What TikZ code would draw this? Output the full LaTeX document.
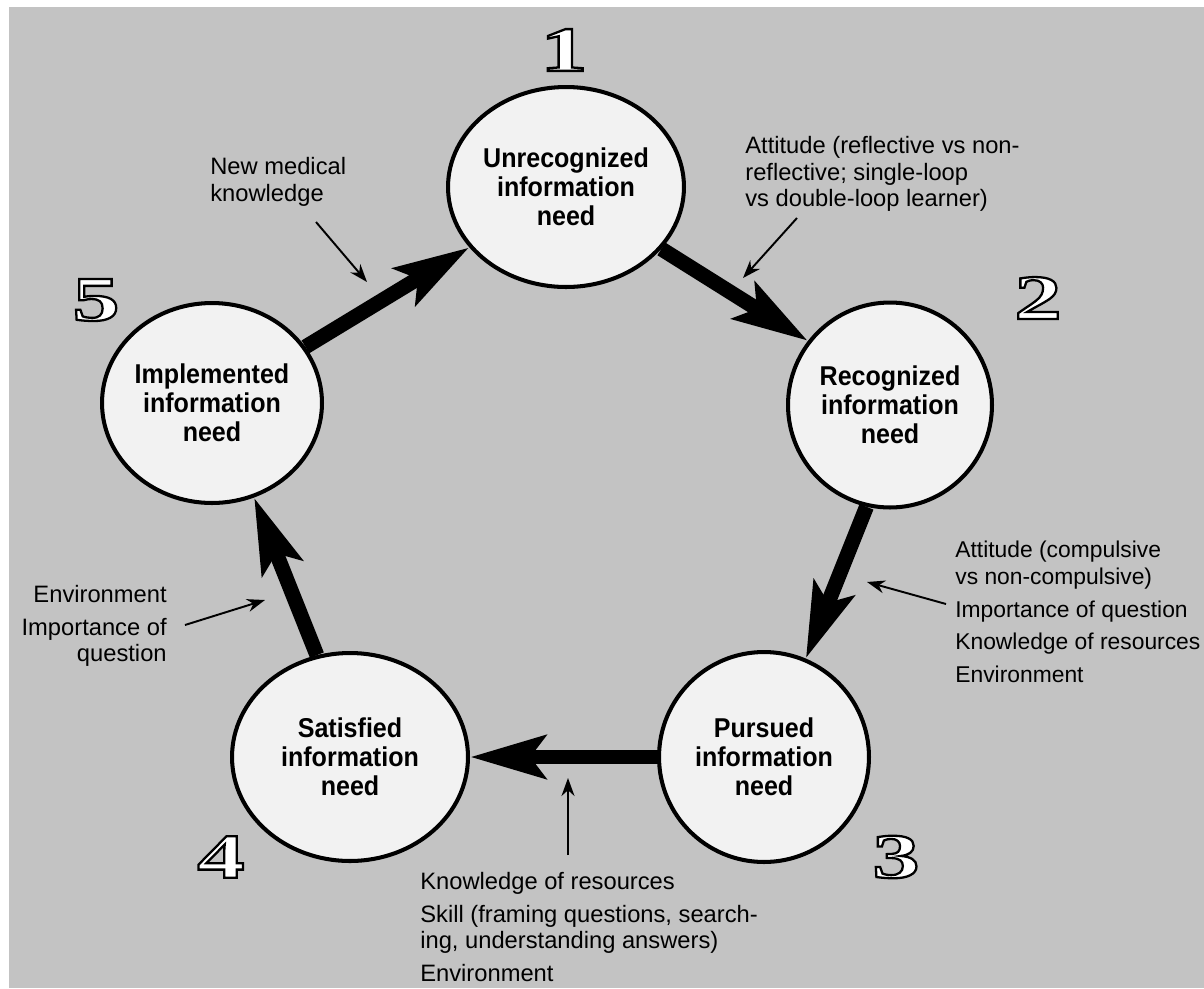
\documentclass[tikz,border=0pt]{standalone}
\usepackage{fontspec}
\setmainfont{Liberation Sans}
\newfontfamily\circfont[FakeStretch=0.92]{Liberation Sans}
\newfontfamily\numfont[FakeStretch=1.5]{Liberation Serif}
\usetikzlibrary{shapes.geometric,arrows.meta,positioning}

\definecolor{bggray}{HTML}{C3C3C3}
\definecolor{circfill}{HTML}{F2F2F2}

% outlined digit: white fill, black stroke
\newcommand{\bignum}[1]{%
  \special{pdf:literal direct 2 Tr 1.3 w 1 g 0 G}#1\special{pdf:literal direct 0 Tr 0 g 0 G}}

\tikzset{
  stage/.style={ellipse, draw, line width=2.3pt, fill=circfill, inner sep=0pt,
    align=center, font=\circfont\bfseries\fontsize{15.5}{16.5}\selectfont},
  flow/.style={line width=8.5pt, -{Stealth[length=1.5cm,width=0.85cm,inset=0.3cm]}},
  note/.style={font=\fontsize{13.5}{15.2}\selectfont, inner sep=0pt},
  hint/.style={line width=1.1pt, -{Stealth[length=0.36cm,width=0.26cm]}},
  num/.style={font=\numfont\bfseries\fontsize{36}{36}\selectfont, inner sep=0pt}
}

\begin{document}
\begin{tikzpicture}[x=0.02cm, y=-0.02cm]
    \useasboundingbox (0,0) rectangle (1204,988);
    \fill[white] (0,0) rectangle (1204,988);
    \fill[bggray] (9,7) rectangle (1204,988);

    % the five stages
    \node[stage, minimum width=4.72cm, minimum height=4.0cm] (unrec) at (566,187) {Unrecognized\\information\\need};
    \node[stage, minimum width=4.08cm, minimum height=4.1cm] (rec) at (890,405) {Recognized\\information\\need};
    \node[stage, minimum width=4.2cm, minimum height=4.2cm] (purs) at (764,757) {Pursued\\information\\need};
    \node[stage, minimum width=4.72cm, minimum height=4.16cm] (satis) at (350,757) {Satisfied\\information\\need};
    \node[stage, minimum width=4.4cm, minimum height=4.0cm] (impl) at (212,403) {Implemented\\information\\need};

    \node[num] (n1) at (564,50) {\bignum{1}};
    \node[num] (n2) at (1038,298) {\bignum{2}};
    \node[num] (n3) at (896,857) {\bignum{3}};
    \node[num] (n4) at (221,857) {\bignum{4}};
    \node[num] (n5) at (96,300) {\bignum{5}};

    % the cycle
    \draw[flow] (unrec.-33) -- (rec.142);
    \draw[flow] (rec.257) -- (purs.67);
    \draw[flow] (purs.180) -- (satis.0);
    \draw[flow] (satis.108) -- (impl.294);
    \draw[flow] (impl.31) -- (unrec.212);

    % influences
    \node[note, anchor=north west, align=left] (newmed) at (210,157) {New medical\\knowledge};
    \node[note, anchor=north west, align=left] (reflect) at (745,136) {Attitude (reflective vs non-\\reflective; single-loop\\vs double-loop learner)};
    \node[note, anchor=north west, align=left, font=\fontsize{13}{15.2}\selectfont] (compul) at (955,541) {Attitude (compulsive\\vs non-compulsive)\\[3.4pt]Importance of question\\[3.4pt]Knowledge of resources\\[3.4pt]Environment};
    \node[note, anchor=north east, align=right] (envleft) at (167,585) {Environment\\[3.4pt]Importance of\\question};
    \node[note, anchor=north west, align=left] (skill) at (420,872) {Knowledge of resources\\[3.4pt]Skill (framing questions, search-\\ing, understanding answers)\\[3.4pt]Environment};

    \coordinate (newmed-a) at (316,222);
    \coordinate (newmed-b) at (367,282);
    \coordinate (reflect-a) at (797,218);
    \coordinate (reflect-b) at (743,278);
    \coordinate (compul-a) at (946,604);
    \coordinate (compul-b) at (867,582);
    \coordinate (envleft-a) at (185,625);
    \coordinate (envleft-b) at (265,600);
    \coordinate (skill-a) at (568,855);
    \coordinate (skill-b) at (568,778);

    \draw[hint] (newmed-a) -- (newmed-b);
    \draw[hint] (reflect-a) -- (reflect-b);
    \draw[hint] (compul-a) -- (compul-b);
    \draw[hint] (envleft-a) -- (envleft-b);
    \draw[hint] (skill-a) -- (skill-b);
\end{tikzpicture}
\end{document}
